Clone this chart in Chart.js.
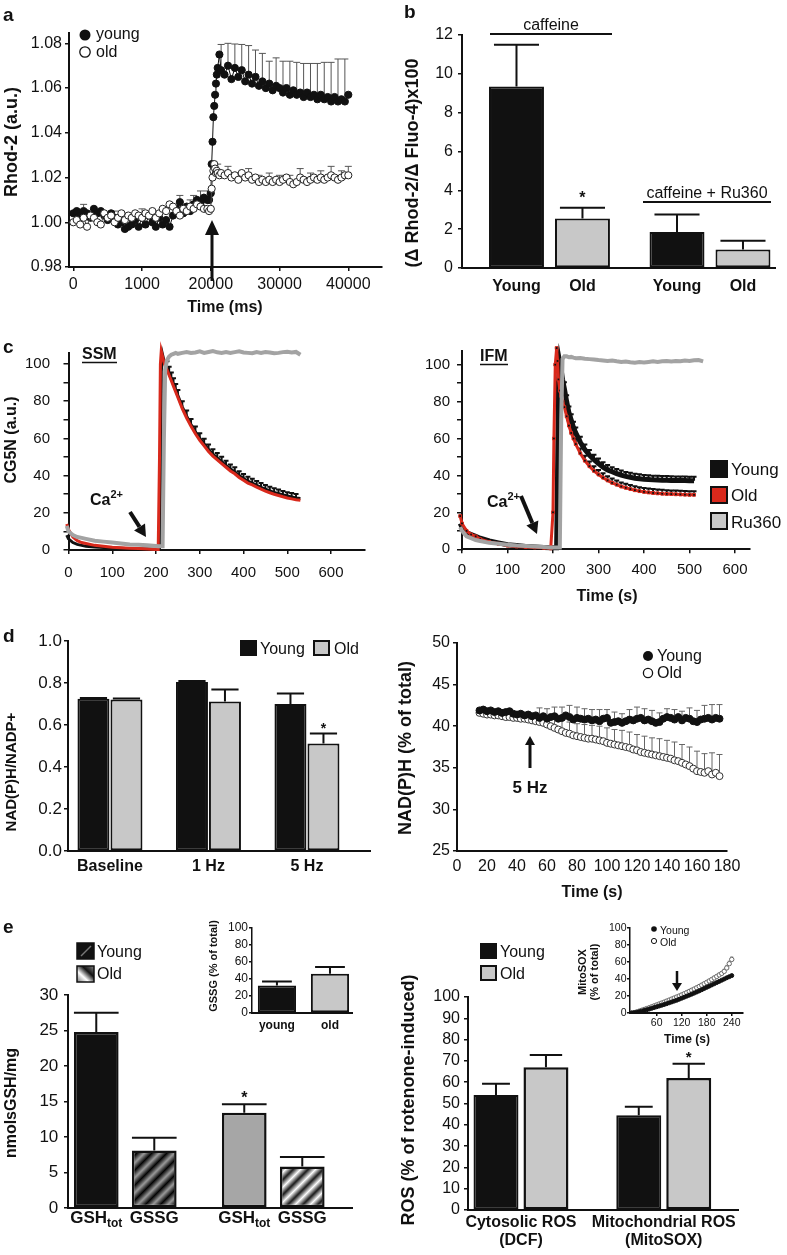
<!DOCTYPE html>
<html>
<head>
<meta charset="utf-8">
<script src="https://cdn.jsdelivr.net/npm/chart.js"></script>
<style>
html, body { margin: 0; padding: 0; background: #fff; }
#fig { position: relative; width: 787px; height: 1255px; overflow: hidden; }
#fig canvas { position: absolute; }
#ann { position: absolute; left: 0; top: 0; z-index: 5; pointer-events: none; }
</style>
</head>
<body>
<div id="fig">
<svg id="ann" width="787" height="1255" fill="#111" style="font-family:'Liberation Sans', Arial, sans-serif">
  <defs>
    <linearGradient id="gOld" x1="0" y1="1" x2="1" y2="0">
      <stop offset="0" stop-color="#777"/><stop offset="0.35" stop-color="#fff"/>
      <stop offset="0.65" stop-color="#111"/><stop offset="1" stop-color="#888"/>
    </linearGradient>
  </defs>
  <g font-weight="bold" font-size="19">
    <text x="3" y="21">a</text><text x="404" y="18">b</text><text x="3" y="353">c</text>
    <text x="3" y="642">d</text><text x="3" y="933">e</text>
  </g>

  <!-- a -->
  <circle cx="85" cy="35" r="5.5"/>
  <text x="96" y="39" font-size="16">young</text>
  <circle cx="85" cy="52" r="5.2" fill="#fff" stroke="#111" stroke-width="1.3"/>
  <text x="96" y="57" font-size="16">old</text>
  <text transform="translate(11,142) rotate(-90)" text-anchor="middle" dominant-baseline="central" font-size="18" font-weight="bold">Rhod-2 (a.u.)</text>
  <text x="225" y="312" text-anchor="middle" font-size="16" font-weight="bold">Time (ms)</text>

  <!-- b -->
  <text transform="translate(412,163) rotate(-90)" text-anchor="middle" dominant-baseline="central" font-size="18" font-weight="bold">(Δ Rhod-2/Δ Fluo-4)x100</text>
  <text x="551" y="30" text-anchor="middle" font-size="16">caffeine</text>
  <line x1="490" y1="34" x2="612" y2="34" stroke="#111" stroke-width="2"/>
  <text x="707" y="198" text-anchor="middle" font-size="16">caffeine + Ru360</text>
  <line x1="643" y1="202" x2="771" y2="202" stroke="#111" stroke-width="2"/>

  <!-- c -->
  <text transform="translate(10,440) rotate(-90)" text-anchor="middle" dominant-baseline="central" font-size="16" font-weight="bold">CG5N (a.u.)</text>
  <text x="82" y="359" font-size="16" font-weight="bold">SSM</text>
  <line x1="82" y1="362.5" x2="117" y2="362.5" stroke="#111" stroke-width="1.5"/>
  <text x="480" y="361" font-size="16" font-weight="bold">IFM</text>
  <line x1="480" y1="364.5" x2="508" y2="364.5" stroke="#111" stroke-width="1.5"/>
  <text x="90" y="505" font-size="16" font-weight="bold">Ca<tspan dy="-7" font-size="11">2+</tspan></text>
  <text x="487" y="507" font-size="16" font-weight="bold">Ca<tspan dy="-7" font-size="11">2+</tspan></text>
  <text x="607" y="601" text-anchor="middle" font-size="16" font-weight="bold">Time (s)</text>
  <rect x="710" y="460" width="18" height="18" fill="#111"/>
  <text x="731" y="475" font-size="17">Young</text>
  <rect x="711" y="487" width="16" height="16" fill="#d9291c" stroke="#111" stroke-width="2"/>
  <text x="731" y="501" font-size="17">Old</text>
  <rect x="711" y="513" width="16" height="16" fill="#c9c9c9" stroke="#111" stroke-width="2"/>
  <text x="731" y="528" font-size="17">Ru360</text>

  <!-- d -->
  <text transform="translate(10,772) rotate(-90)" text-anchor="middle" dominant-baseline="central" font-size="15" font-weight="bold">NAD(P)H/NADP+</text>
  <rect x="240" y="640" width="17" height="16" fill="#111"/>
  <text x="260" y="654" font-size="16">Young</text>
  <rect x="314" y="641" width="15" height="14" fill="#c8c8c8" stroke="#111" stroke-width="2"/>
  <text x="334" y="654" font-size="16">Old</text>
  <text transform="translate(405,748) rotate(-90)" text-anchor="middle" dominant-baseline="central" font-size="18" font-weight="bold">NAD(P)H (% of total)</text>
  <circle cx="648" cy="656" r="5"/>
  <text x="657" y="661" font-size="16">Young</text>
  <circle cx="648" cy="673" r="4.6" fill="#fff" stroke="#111" stroke-width="1.3"/>
  <text x="657" y="678" font-size="16">Old</text>
  <text x="530" y="793" text-anchor="middle" font-size="17" font-weight="bold">5 Hz</text>
  <text x="592" y="897" text-anchor="middle" font-size="16" font-weight="bold">Time (s)</text>

  <!-- e -->
  <text transform="translate(10,1103) rotate(-90)" text-anchor="middle" dominant-baseline="central" font-size="16" font-weight="bold">nmolsGSH/mg</text>
  <rect x="77" y="943" width="17" height="16" fill="#111" stroke="#111" stroke-width="1.5"/>
  <line x1="81" y1="956" x2="91" y2="946" stroke="#777" stroke-width="1.5"/>
  <text x="97" y="957" font-size="16">Young</text>
  <rect x="77" y="966" width="17" height="16" fill="url(#gOld)" stroke="#111" stroke-width="1.5"/>
  <text x="97" y="979" font-size="16">Old</text>
  <text transform="translate(213,966) rotate(-90)" text-anchor="middle" dominant-baseline="central" font-size="11" font-weight="bold">GSSG (% of total)</text>

  <text transform="translate(408,1100) rotate(-90)" text-anchor="middle" dominant-baseline="central" font-size="18" font-weight="bold">ROS (% of rotenone-induced)</text>
  <rect x="480" y="943" width="17" height="16" fill="#111"/>
  <text x="500" y="957" font-size="16">Young</text>
  <rect x="481" y="966" width="15" height="14" fill="#c8c8c8" stroke="#111" stroke-width="2"/>
  <text x="500" y="979" font-size="16">Old</text>
  <text transform="translate(582,972) rotate(-90)" text-anchor="middle" dominant-baseline="central" font-size="11" font-weight="bold">MitoSOX</text>
  <text transform="translate(594,972) rotate(-90)" text-anchor="middle" dominant-baseline="central" font-size="11" font-weight="bold">(% of total)</text>
  <text x="687" y="1043" text-anchor="middle" font-size="12" font-weight="bold">Time (s)</text>
  <circle cx="654" cy="929" r="2.8"/>
  <text x="660" y="934" font-size="10.5">Young</text>
  <circle cx="654" cy="941" r="2.6" fill="#fff" stroke="#111" stroke-width="1"/>
  <text x="660" y="946" font-size="10.5">Old</text>
</svg>
</div>

<script>
const FONT = "'Liberation Sans', Arial, Helvetica, sans-serif";
Chart.defaults.font.family = FONT;
Chart.defaults.color = '#111';

// ---------- a: Rhod-2 ----------
const timeA = [0,500,1000,1500,2000,2500,3000,3500,4000,4500,5000,5500,6000,6500,7000,7500,8000,8500,9000,9500,
  10000,10500,11000,11500,12000,12500,13000,13500,14000,14500,15000,15500,16000,16500,17000,17500,18000,18500,19000,19500,
  19750,20000,20125,20250,20375,20500,20625,20750,20875,21000,21250,21500,
  22000,22500,23000,23500,24000,24500,25000,25500,26000,26500,27000,27500,28000,28500,29000,29500,30000,30500,31000,31500,
  32000,32500,33000,33500,34000,34500,35000,35500,36000,36500,37000,37500,38000,38500,39000,39500,40000];
const youngA = [1.004,1.005,1.003,1.005,1.004,1.002,1.006,1.004,1.005,1.003,
  1.001,1.004,1.002,0.999,1.000,0.997,0.998,0.999,1.001,0.998,
  1.002,0.999,1.003,1.000,0.998,1.002,0.999,1.001,0.998,1.003,
  1.006,1.009,1.004,1.007,1.005,1.008,1.010,1.009,1.011,1.010,
  1.010,1.013,1.026,1.036,1.047,1.052,1.057,1.062,1.066,1.069,1.075,1.068,
  1.066,1.070,1.064,1.069,1.065,1.068,1.063,1.066,1.062,1.065,
  1.061,1.063,1.060,1.062,1.059,1.061,1.060,1.058,1.060,1.057,
  1.059,1.057,1.058,1.056,1.058,1.056,1.057,1.055,1.057,1.055,
  1.056,1.054,1.056,1.054,1.055,1.054,1.057];
const oldA = [1.000,1.001,0.999,1.002,0.998,1.003,1.002,1.000,0.999,1.004,
  1.002,1.003,1.000,1.002,1.004,1.001,1.003,1.002,1.004,1.003,
  1.002,1.004,1.003,1.005,1.002,1.004,1.006,1.005,1.008,1.007,
  1.005,1.003,1.006,1.005,1.007,1.006,1.008,1.007,1.006,1.006,
  1.005,1.006,1.015,1.020,1.023,1.026,1.024,1.022,1.023,1.022,1.021,1.022,
  1.021,1.022,1.020,1.021,1.019,1.022,1.020,1.021,1.019,1.020,
  1.018,1.019,1.018,1.019,1.018,1.019,1.018,1.019,1.020,1.018,
  1.017,1.018,1.020,1.019,1.018,1.019,1.020,1.019,1.020,1.019,
  1.020,1.021,1.020,1.019,1.020,1.021,1.021];
const errTimesYoungA = [1500,6000,10000,15500,17500,18500,19500,21500,22500,23500,24500,25500,26500,27500,28500,29500,30500,31500,32500,33500,34500,35500,36500,37500,38500,39500];
const errYoungA = [0.003,0.003,0.004,0.003,0.004,0.005,0.004,0.0115,0.010,0.0107,0.0115,0.013,0.012,0.0125,0.010,0.0125,0.014,0.015,0.0145,0.015,0.015,0.016,0.0165,0.0175,0.019,0.019];
const errTimesOldA = [17000,19000,21000,22500,24000,25500,27000,28500,30000,31500,33000,34500,36000,37500,39000,40000];
const errOldA = [0.003,0.003,0.004,0.003,0.003,0.003,0.003,0.003,0.003,0.003,0.004,0.003,0.003,0.004,0.003,0.004];
const tickValsA = [0, 10000, 20000, 30000, 40000];
const ticksA = ['0', '1000', '20000', '30000', '40000'];

// ---------- b: caffeine ----------
const groupsB = ['caffeine', 'caffeine + Ru360'];
const youngB = [9.35, 1.85];
const oldB = [2.55, 0.95];
const errYoungB = [2.15, 0.9];
const errOldB = [0.55, 0.45];
const starsB = ['*', ''];

// ---------- c: CG5N, SSM ----------
const timeSSM = [-8,-4,0,10,20,30,40,60,80,100,120,140,160,180,200,205,208,210,212,215,218,221,225,230,235,240,245,250,
  260,270,280,290,300,310,320,330,340,350,360,370,380,390,400,410,420,430,440,450,460,470,480,490,500,510,520,530];
const youngSSM = [10,8,6,4,3,2.5,2,1.6,1.3,1.1,0.9,0.7,0.6,0.5,0.4,0.4,0.5,30,96,105,102,100,98,95,92,89,86,83,
  77,72,67.5,63.5,60,57,54,51.5,49.5,47.5,45.5,43.5,42,40,38.5,37,36,34.8,33.7,32.7,31.8,31,30.3,29.6,29,28.5,28,27.7];
const oldSSM = [17,14,11,7,5,4,3.5,2.5,2,1.5,1.2,1,0.8,0.5,0.3,0.3,50,100,107,104,101,99,97,94,91,88,85,82,
  76,71,66.5,62.5,59,56,53,50.5,48.5,46.5,44.5,42.5,41,39,37.5,36,35,33.8,32.7,31.7,30.8,30,29.3,28.6,28,27.5,27,26.7];
const ru360SSM = [18,13,10,8,7,6.5,6,5,4.5,4,3.5,3,2.8,2.5,2.2,2,2,2,2,2,60,97,102,104,105,105.5,106,105.5,
  106,106.5,106,106.2,106.8,106,106.5,107,106.3,106,106.5,106,106.4,106.8,106.2,106,105.8,106.4,106,106.5,106.2,105.8,106,106.4,106.6,106.2,106.5,105];
const errTimesSSM = [225,230,235,240,245,250,260,270,280,290,300,310,320,330,340,350,360,370,380,390,400,410,420,430,440,450,460,470,480,490,500,510,520];
const errYoungSSM = [3.5,3.5,3.4,3.3,3.2,3.1,3,3,2.9,2.9,2.8,2.8,2.7,2.7,2.6,2.6,2.5,2.5,2.5,2.4,2.4,2.4,2.3,2.3,2.3,2.2,2.2,2.2,2.2,2.1,2.1,2.1,2.1];

// ---------- c: CG5N, IFM ----------
const timeIFM = [-8,-4,0,10,20,30,40,60,80,100,120,140,160,180,195,200,202,205,208,210,212,215,218,221,225,230,235,240,245,250,
  260,270,280,290,300,310,320,330,340,350,360,370,380,390,400,410,420,430,440,450,460,470,480,490,500,510,520,530];
const youngIFM = [16,14,12,9,8,7,6,4.5,3.5,2.5,2,1.5,1.2,1,0.8,0.8,0.8,0.8,0.8,40,90,101,97,92,87,80,74,70,66,63,
  58,54,51,48.5,46.5,44.5,43,42,41,40.2,39.5,39,38.5,38.2,38,37.8,37.6,37.5,37.4,37.4,37.3,37.2,37.2,37.2,37.1,37.1,null,null];
const oldIFM = [21,18,14,10,8,7,5.5,4,3,2,1.5,1.2,1,0.8,0.5,20,60,100,109,102,92,86,83,80,77,72,67,63,60,57,
  52,48,45,42.5,40.5,38.8,37.3,36,35,34,33.3,32.6,32,31.5,31.1,30.8,30.5,30.3,30.1,30,29.9,29.8,29.7,29.6,29.5,29.5,null,null];
const ru360IFM = [14,12,10,7,6,5,4.5,3.5,3,2.5,2,1.8,1.5,1.3,1,1,1,1,1,1,1,1,70,103,104.5,104.5,104,104.2,103.8,103.5,
  103.6,103.2,103,102.8,102.5,102.3,102,102.2,101.8,101.5,101.7,101.3,101,101.4,101.2,101.5,101.8,101.5,101.8,102,101.7,102,101.8,102.2,102,102.4,102.5,101.8];
const errTimesIFM = [225,230,235,240,245,250,260,270,280,290,300,310,320,330,340,350,360,370,380,390,400,410,420,430,440,450,460,470,480,490,500,510];
const errYoungIFM = [3.5,3.4,3.3,3.2,3.1,3,2.9,2.8,2.8,2.7,2.7,2.6,2.6,2.5,2.5,2.5,2.4,2.4,2.4,2.4,2.3,2.3,2.3,2.3,2.3,2.3,2.2,2.2,2.2,2.2,2.2,2.2];
const errOldIFM = [3,3,2.9,2.8,2.8,2.7,2.6,2.6,2.5,2.5,2.4,2.4,2.3,2.3,2.3,2.2,2.2,2.2,2.2,2.1,2.1,2.1,2.1,2.1,2.1,2,2,2,2,2,2,2];

// ---------- d: NAD(P)H ratio ----------
const catsD = ['Baseline', '1 Hz', '5 Hz'];
const youngD = [0.725, 0.805, 0.70];
const oldD = [0.722, 0.712, 0.512];
const errYoungD = [0.004, 0.004, 0.05];
const errOldD = [0.004, 0.057, 0.047];
const starsD = ['', '', '*'];

// ---------- d: NAD(P)H time course ----------
const timeNad = [15,17.5,20,22.5,25,27.5,30,32.5,35,37.5,40,42.5,45,47.5,50,52.5,55,57.5,60,62.5,65,67.5,70,72.5,75,77.5,80,82.5,85,87.5,
  90,92.5,95,97.5,100,102.5,105,107.5,110,112.5,115,117.5,120,122.5,125,127.5,130,132.5,135,137.5,140,142.5,145,147.5,150,152.5,155,157.5,160,162.5,165,167.5,170,172.5,175];
const youngNad = [41.9,42.0,41.8,41.9,41.7,41.8,41.6,41.7,41.8,41.5,41.4,41.5,41.3,41.4,41.2,41.3,41.0,41.2,40.9,41.1,
  41.2,40.9,41.0,41.3,41.1,40.8,41.0,40.9,40.8,40.9,40.7,40.8,40.6,40.9,41.0,40.4,40.5,40.6,40.4,40.6,
  40.8,40.7,40.9,41.0,40.7,40.8,40.6,40.4,40.5,40.9,41.1,41.0,40.8,41.1,40.7,41.0,40.9,40.6,40.5,40.8,
  40.9,41.0,40.8,41.0,40.9];
const oldNad = [41.6,41.5,41.4,41.4,41.3,41.3,41.2,41.1,41.1,41.0,41.0,40.9,40.9,40.8,40.7,40.6,40.5,40.4,40.2,40.0,
  39.8,39.6,39.4,39.2,39.1,38.9,38.8,38.7,38.6,38.5,38.5,38.4,38.3,38.2,38.0,37.9,37.8,37.7,37.6,37.5,
  37.4,37.2,37.1,36.9,36.8,36.7,36.6,36.5,36.4,36.3,36.2,36.1,35.9,35.8,35.6,35.4,35.2,34.9,34.6,34.5,
  34.4,34.6,34.2,34.4,34.0];
const errTimesNad = [55,60,65,70,75,80,85,90,95,100,105,110,115,120,125,130,135,140,145,150,155,160,165,170,175];
const errYoungNad = [1.2,1.2,1.1,1.3,1.4,1.3,1.3,1.3,1.4,1.0,1.2,1.1,1.2,1.4,1.4,1.3,1.1,1.0,1.2,1.1,1.3,1.4,1.6,1.8,1.7];
const errOldNad = [0.8,1.0,1.1,1.4,1.4,1.5,1.6,1.6,1.7,1.8,1.8,1.9,1.9,1.9,2.0,2.0,2.1,2.1,2.2,2.2,2.3,2.4,2.3,2.6,2.6];

// ---------- e: glutathione ----------
const groupsE = ['young', 'old'];
const gshTot = [24.8, 13.4];
const gssg = [8.1, 5.85];
const errGshTot = [2.7, 1.2];
const errGssg = [1.8, 1.35];
const starsGsh = ['', '*'];
const gssgPct = [32.5, 46.2];
const errGssgPct = [4.7, 7.9];

// ---------- e: ROS ----------
const catsRos = [['Cytosolic ROS', '(DCF)'], ['Mitochondrial ROS', '(MitoSOX)']];
const rosYoung = [54, 44.5];
const rosOld = [67, 62];
const errRosYoung = [5.3, 4];
const errRosOld = [5.8, 6.7];
const starsRos = ['', '*'];

const timeMito = [0,6,12,18,24,30,36,42,48,54,60,66,72,78,84,90,96,102,108,114,120,126,132,138,144,150,156,162,168,174,180,186,192,198,204,210,216,222,228,234,240];
const youngMito = [0,0.3,0.8,1.5,2.2,3,3.8,4.6,5.5,6.4,7.3,8.2,9.1,10,11,12,13,14,15,16.2,17.4,18.6,19.8,21,22.2,23.4,24.7,26,27.4,28.8,30.2,31.6,33,34.4,35.8,37.2,38.6,40,41.4,42.7,44];
const oldMito = [0,0.5,1.2,2.2,3.2,4.2,5.2,6.2,7.3,8.4,9.5,10.6,11.7,12.8,14,15.2,16.4,17.6,18.8,20,21.3,22.6,24,25.4,26.8,28.2,29.7,31.2,32.8,34.4,36,37.7,39.4,41.2,43,44.8,46.6,49,53,58,63];
const errTimesMito = [198,210,222,228,234,240];
const errOldMito = [2,2,2.5,3,3,3];
const ticksMito = [60, 120, 180, 240];

// ---------- helpers ----------
const zip = (xs, ys, es) => xs.map((x, i) => ({x, y: ys[i], e: es ? es[i] : null})).filter(p => p.y != null);
const sparse = (xs, ts, vs) => xs.map(x => { const k = ts.indexOf(x); return k < 0 ? null : vs[k]; });
const bars = (vals, errs, marks) => vals.map((y, i) => ({x: i, y, e: errs[i], m: marks ? marks[i] : ''}));
const DOTTED = {color: '#111', width: 2, dash: [2, 3]};

function stripes(c1, c2) {
  const p = 15, cv = document.createElement('canvas');
  cv.width = cv.height = p;
  const g = cv.getContext('2d');
  const grad = g.createLinearGradient(0, 0, p, p);
  grad.addColorStop(0, c1); grad.addColorStop(0.25, c2); grad.addColorStop(0.5, c1);
  grad.addColorStop(0.75, c2); grad.addColorStop(1, c1);
  g.fillStyle = grad; g.fillRect(0, 0, p, p);
  return g.createPattern(cv, 'repeat');
}

function drawErrors(chart) {
  const ctx = chart.ctx, ys = chart.scales.y, isBar = chart.config.type === 'bar';
  chart.data.datasets.forEach((ds, di) => {
    const meta = chart.getDatasetMeta(di);
    ctx.save();
    ctx.strokeStyle = ds.errColor || '#111';
    ctx.lineWidth = ds.errWidth || 2;
    meta.data.forEach((el, i) => {
      const p = ds.data[i];
      if (!p || p.e == null) return;
      const top = ys.getPixelForValue(p.y + p.e);
      const from = isBar ? el.y : el.y - (ds.pointRadius || 0);
      const half = (isBar ? el.width * ds.errCap : ds.errCap) / 2;
      ctx.beginPath();
      ctx.moveTo(el.x, from); ctx.lineTo(el.x, top);
      ctx.moveTo(el.x - half, top); ctx.lineTo(el.x + half, top);
      ctx.stroke();
    });
    ctx.restore();
  });
}

// error bars, stars and per-bar labels
const extras = {
  id: 'extras',
  beforeDatasetsDraw(chart) { if (chart.config.type !== 'bar') drawErrors(chart); },
  afterDatasetsDraw(chart, args, opt) {
    if (chart.config.type !== 'bar') return;
    drawErrors(chart);
    const ctx = chart.ctx, ys = chart.scales.y;
    chart.data.datasets.forEach((ds, di) => {
      const meta = chart.getDatasetMeta(di);
      meta.data.forEach((el, i) => {
        const p = ds.data[i];
        ctx.save();
        ctx.fillStyle = '#111';
        if (p.m) {
          ctx.font = `bold ${opt.markSize || 15}px ${FONT}`;
          ctx.textAlign = 'center'; ctx.textBaseline = 'alphabetic';
          ctx.fillText(p.m, el.x, ys.getPixelForValue(p.y + (p.e || 0)) - (opt.markGap || 2));
        }
        if (ds.under) {
          const [main, sub] = ds.under;
          const y0 = chart.chartArea.bottom + opt.underDy;
          ctx.textBaseline = 'middle';
          ctx.font = `bold ${opt.underSize}px ${FONT}`;
          if (!sub) {
            ctx.textAlign = 'center';
            ctx.fillText(main, el.x, y0);
          } else {
            const wm = ctx.measureText(main).width;
            ctx.font = `bold ${opt.subSize}px ${FONT}`;
            const wsub = ctx.measureText(sub).width;
            const x0 = el.x - (wm + wsub) / 2;
            ctx.textAlign = 'left';
            ctx.fillText(sub, x0 + wm, y0 + 6);
            ctx.font = `bold ${opt.underSize}px ${FONT}`;
            ctx.fillText(main, x0, y0);
          }
        }
        ctx.restore();
      });
    });
  }
};

function yScale(min, max, step, size, pad, tl, cb, bw) {
  return {
    type: 'linear', min, max,
    border: {color: '#111', width: bw || 2},
    grid: {drawOnChartArea: false, tickLength: tl, color: '#111', lineWidth: 1.5},
    ticks: {stepSize: step, includeBounds: false, autoSkip: false, padding: pad, font: {size}, color: '#111',
      callback: cb || (v => v)}
  };
}
function xLinear(min, max, step, size, pad, tl, cb, vals) {
  const s = {
    type: 'linear', min, max, offset: false,
    border: DOTTED,
    grid: {drawOnChartArea: false, drawTicks: tl > 0, tickLength: tl, color: '#111', lineWidth: 1.5, offset: false},
    ticks: {stepSize: step, includeBounds: false, padding: pad, font: {size}, color: '#111',
      autoSkip: false, maxRotation: 0, callback: cb || (v => v)}
  };
  if (vals) s.afterBuildTicks = sc => { sc.ticks = vals.map(v => ({value: v})); };
  return s;
}
function xGroups(min, max, labels, font, pad, show) {
  return {
    type: 'linear', min, max, offset: false,
    border: DOTTED,
    grid: {drawOnChartArea: false, drawTicks: false, offset: false},
    afterBuildTicks: s => { s.ticks = labels.map((c, i) => ({value: i})); },
    ticks: {display: show, padding: pad, font, color: '#111', autoSkip: false, maxRotation: 0,
      callback: (v, i) => labels[i]}
  };
}

// box = canvas rectangle, area = wanted plot rectangle (page pixels)
function place(box, area, cfg) {
  const cv = document.createElement('canvas');
  cv.width = box.w; cv.height = box.h;
  cv.style.left = box.left + 'px'; cv.style.top = box.top + 'px';
  document.getElementById('fig').insertBefore(cv, document.getElementById('ann'));
  const o = cfg.options;
  o.responsive = false;
  o.animation = false;
  o.layout = {padding: {left: 0, bottom: 0, top: area.t - box.top, right: box.left + box.w - area.r}};
  o.plugins = Object.assign({legend: {display: false}, tooltip: {enabled: false}}, o.plugins || {});
  o.scales.x.afterFit = s => { s.height = box.top + box.h - area.b; };
  o.scales.y.afterFit = s => { s.width = area.l - box.left; };
  cfg.plugins = [extras];
  return new Chart(cv, cfg);
}

// ---------- a ----------
place({left: 0, top: 20, w: 400, h: 305}, {l: 69, t: 32, r: 382, b: 267}, {
  type: 'line',
  data: {datasets: [
    {data: zip(timeA, oldA, sparse(timeA, errTimesOldA, errOldA)), borderColor: '#444', borderWidth: 1,
      pointRadius: 3.6, pointBackgroundColor: '#fff', pointBorderColor: '#222', pointBorderWidth: 1,
      errColor: '#555', errWidth: 1, errCap: 7},
    {data: zip(timeA, youngA, sparse(timeA, errTimesYoungA, errYoungA)), borderColor: '#111', borderWidth: 1,
      pointRadius: 3.6, pointBackgroundColor: '#111', pointBorderColor: '#111', pointBorderWidth: 1,
      errColor: '#555', errWidth: 1, errCap: 7}
  ]},
  options: {scales: {
    x: xLinear(-625, 44900, 10000, 16, 4, 4, (v, i) => ticksA[i], tickValsA),
    y: yScale(0.98, 1.0848, 0.02, 16, 3, 4, v => v.toFixed(2))
  }}
});

// ---------- b ----------
place({left: 400, top: 20, w: 387, h: 300}, {l: 462, t: 35, r: 775, b: 268}, {
  type: 'bar',
  data: {datasets: [
    {data: bars(youngB, errYoungB), under: ['Young'], backgroundColor: '#111', borderColor: '#111', borderWidth: 2,
      borderSkipped: false, categoryPercentage: 0.822, barPercentage: 0.833, errCap: 0.82},
    {data: bars(oldB, errOldB, starsB), under: ['Old'], backgroundColor: '#c8c8c8', borderColor: '#111', borderWidth: 2,
      borderSkipped: false, categoryPercentage: 0.822, barPercentage: 0.833, errCap: 0.82}
  ]},
  options: {
    plugins: {extras: {underSize: 16, underDy: 19, markSize: 16, markGap: 5}},
    scales: {
      x: xGroups(-0.545, 1.405, groupsB, {size: 16}, 4, false),
      y: yScale(0, 12, 2, 16, 5, 4)
    }
  }
});

// ---------- c: SSM ----------
function cgLines(times, young, old, ru, errY, errO, ifm) {
  return [
    {data: zip(times, ru), borderColor: '#a3a3a3', borderWidth: 4, pointRadius: 0, clip: false},
    {data: zip(times, old, errO), borderColor: '#d9291c', borderWidth: 3, clip: false,
      pointRadius: ifm ? 2 : 0, pointStyle: 'rect', pointBackgroundColor: '#111', pointBorderColor: '#d9291c',
      pointBorderWidth: 1, errCap: 5, errWidth: 2},
    {data: zip(times, young, errY), borderColor: '#111', borderWidth: ifm ? 5 : 3, pointRadius: 0, clip: false,
      errCap: 5, errWidth: 2}
  ];
}
place({left: 0, top: 330, w: 395, h: 260}, {l: 68.5, t: 345, r: 365, b: 550}, {
  type: 'line',
  data: {datasets: cgLines(timeSSM, youngSSM, oldSSM, ru360SSM, sparse(timeSSM, errTimesSSM, errYoungSSM), null, false)},
  options: {scales: {
    x: xLinear(0, 677.6, 100, 15, 10, 4),
    y: yScale(0, 106.2, 10, 15, 13.5, 5, v => (v % 20 === 0 ? v : ''))
  }}
});

// ---------- c: IFM ----------
place({left: 395, top: 335, w: 392, h: 255}, {l: 462, t: 350, r: 750, b: 549.3}, {
  type: 'line',
  data: {datasets: cgLines(timeIFM, youngIFM, oldIFM, ru360IFM,
    sparse(timeIFM, errTimesIFM, errYoungIFM), sparse(timeIFM, errTimesIFM, errOldIFM), true)},
  options: {scales: {
    x: xLinear(0, 633, 100, 15, 8, 4),
    y: yScale(0, 107.4, 10, 15, 7, 5, v => (v % 20 === 0 ? v : ''))
  }}
});

// ---------- d: ratio ----------
place({left: 0, top: 628, w: 395, h: 255}, {l: 68, t: 641, r: 370, b: 851}, {
  type: 'bar',
  data: {datasets: [
    {data: bars(youngD, errYoungD), backgroundColor: '#111', borderColor: '#111', borderWidth: 2,
      borderSkipped: false, categoryPercentage: 0.67, barPercentage: 0.97, errCap: 0.85},
    {data: bars(oldD, errOldD, starsD), backgroundColor: '#c8c8c8', borderColor: '#111', borderWidth: 2,
      borderSkipped: false, categoryPercentage: 0.67, barPercentage: 0.97, errCap: 0.85}
  ]},
  options: {
    plugins: {extras: {markSize: 14, markGap: 1}},
    scales: {
      x: xGroups(-0.426, 2.64, catsD, {size: 16, weight: 'bold'}, 6, true),
      y: yScale(0, 1, 0.2, 17, 2, 4, v => v.toFixed(1))
    }
  }
});

// ---------- d: time course ----------
place({left: 395, top: 628, w: 392, h: 255}, {l: 457, t: 643, r: 727, b: 851}, {
  type: 'line',
  data: {datasets: [
    {data: zip(timeNad, youngNad, sparse(timeNad, errTimesNad, errYoungNad)), borderColor: '#111', borderWidth: 1,
      pointRadius: 3.5, pointBackgroundColor: '#111', pointBorderColor: '#111', errColor: '#666', errWidth: 1, errCap: 6},
    {data: zip(timeNad, oldNad, sparse(timeNad, errTimesNad, errOldNad)), borderColor: '#444', borderWidth: 1,
      pointRadius: 3.5, pointBackgroundColor: '#fff', pointBorderColor: '#333', pointBorderWidth: 1,
      errColor: '#666', errWidth: 1, errCap: 6}
  ]},
  options: {scales: {
    x: xLinear(0, 180, 20, 16, 6, 0),
    y: yScale(25, 50, 5, 16, 3, 4)
  }}
});

// ---------- e: glutathione ----------
place({left: 0, top: 975, w: 360, h: 275}, {l: 68, t: 995, r: 352, b: 1208}, {
  type: 'bar',
  data: {datasets: [
    {data: bars(gshTot, errGshTot, starsGsh), under: ['GSH', 'tot'], backgroundColor: ['#111', '#a6a6a6'],
      borderColor: '#111', borderWidth: 2.5, borderSkipped: false, categoryPercentage: 0.784, barPercentage: 0.77, errCap: 1},
    {data: bars(gssg, errGssg), under: ['GSSG'], backgroundColor: [stripes('#050505', '#9a9a9a'), stripes('#fafafa', '#1a1a1a')],
      borderColor: '#111', borderWidth: 2.5, borderSkipped: false, categoryPercentage: 0.784, barPercentage: 0.77, errCap: 1}
  ]},
  options: {
    plugins: {extras: {underSize: 17, subSize: 12, underDy: 10, markSize: 16, markGap: 1}},
    scales: {
      x: xGroups(-0.387, 1.532, groupsE, {size: 16}, 4, false),
      y: yScale(0, 30, 5, 17, 5.7, 4)
    }
  }
});

// ---------- e: ROS ----------
place({left: 400, top: 975, w: 387, h: 280}, {l: 468, t: 997, r: 738, b: 1210}, {
  type: 'bar',
  data: {datasets: [
    {data: bars(rosYoung, errRosYoung), backgroundColor: '#111', borderColor: '#111', borderWidth: 2,
      borderSkipped: false, categoryPercentage: 0.70, barPercentage: 0.9, errCap: 0.62},
    {data: bars(rosOld, errRosOld, starsRos), backgroundColor: '#c8c8c8', borderColor: '#111', borderWidth: 2.5,
      borderSkipped: false, categoryPercentage: 0.70, barPercentage: 0.9, errCap: 0.72}
  ]},
  options: {
    plugins: {extras: {markSize: 15, markGap: 2}},
    scales: {
      x: xGroups(-0.371, 1.52, catsRos, {size: 16, weight: 'bold', lineHeight: 1.1}, 4, true),
      y: yScale(0, 100, 10, 16, 4, 4)
    }
  }
});

// ---------- e insets ----------
place({left: 215, top: 915, w: 145, h: 125}, {l: 252, t: 928, r: 352, b: 1013}, {
  type: 'bar',
  data: {datasets: [
    {data: bars(gssgPct, errGssgPct), backgroundColor: ['#111', '#c8c8c8'], borderColor: '#111', borderWidth: 2,
      borderSkipped: false, categoryPercentage: 0.8, barPercentage: 0.9, errCap: 0.78}
  ]},
  options: {scales: {
    x: xGroups(-0.47, 1.415, groupsE, {size: 12, weight: 'bold'}, 5, true),
    y: yScale(0, 100, 20, 12, 1, 3, null, 1.5)
  }}
});

place({left: 600, top: 915, w: 187, h: 125}, {l: 630, t: 928, r: 743, b: 1013}, {
  type: 'line',
  data: {datasets: [
    {data: zip(timeMito, youngMito), borderColor: '#111', borderWidth: 1, pointRadius: 2,
      pointBackgroundColor: '#111', pointBorderColor: '#111'},
    {data: zip(timeMito, oldMito, sparse(timeMito, errTimesMito, errOldMito)), borderColor: '#888', borderWidth: 1,
      pointRadius: 2.2, pointBackgroundColor: '#fff', pointBorderColor: '#666', pointBorderWidth: 1,
      errColor: '#999', errWidth: 1, errCap: 3}
  ]},
  options: {scales: {
    x: xLinear(-4, 267, 60, 10.5, 1, 3, null, ticksMito),
    y: yScale(0, 100, 20, 10.5, 0.5, 3, null, 1.5)
  }}
});

// ---------- arrows ----------
const svg = document.getElementById('ann');
function arrow(x1, y1, x2, y2, sw, hw, hl) {
  const dx = x2 - x1, dy = y2 - y1, L = Math.hypot(dx, dy), ux = dx / L, uy = dy / L;
  const bx = x2 - ux * hl, by = y2 - uy * hl;
  svg.insertAdjacentHTML('beforeend',
    `<line x1="${x1}" y1="${y1}" x2="${bx}" y2="${by}" stroke="#111" stroke-width="${sw}"/>` +
    `<polygon points="${x2},${y2} ${bx - uy * hw / 2},${by + ux * hw / 2} ${bx + uy * hw / 2},${by - ux * hw / 2}" fill="#111"/>`);
}
arrow(212, 281, 212, 220, 3, 14, 15);
arrow(130, 512, 146, 537, 4, 13, 12);
arrow(521, 496, 537, 534, 4, 13, 12);
arrow(530, 768, 530, 736, 3, 10, 9);
arrow(677, 971, 677, 991, 2.5, 10, 8);
</script>
</body>
</html>
